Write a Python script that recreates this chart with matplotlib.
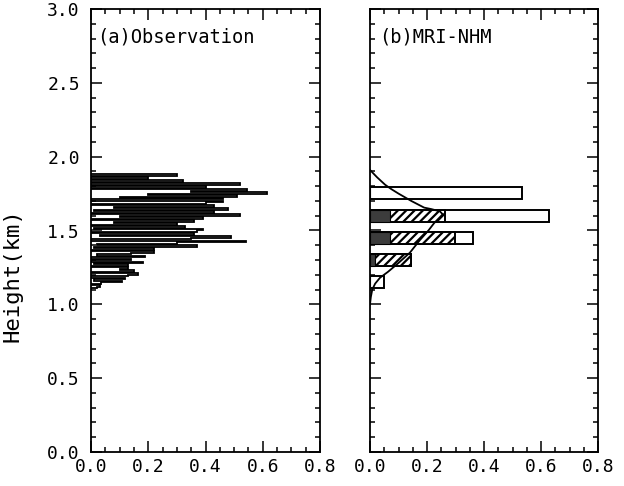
import numpy as np
import matplotlib
matplotlib.use("Agg")
import matplotlib.pyplot as plt
from matplotlib.ticker import MultipleLocator, FormatStrFormatter

plt.rcParams['font.family'] = ['DejaVu Sans Mono', 'DejaVu Sans']
plt.rcParams['hatch.linewidth'] = 1.6

# ---- Panel (a): observed fraction profile, 0.01 km bins from 1.10 km ----
obs_bin_bottom = 1.10
obs_bin_width = 0.01
obs_values = [
    0.0, 0.02, 0.03, 0.0, 0.035, 0.11, 0.01, 0.12, 0.0, 0.13,        # 1.10-1.19
    0.165, 0.0, 0.15, 0.10, 0.13, 0.0, 0.13, 0.01, 0.18, 0.0,        # 1.20-1.29
    0.14, 0.0, 0.19, 0.02, 0.14, 0.22, 0.0, 0.22, 0.01, 0.37,        # 1.30-1.39
    0.02, 0.30, 0.54, 0.0, 0.35, 0.49, 0.03, 0.36, 0.0, 0.37,        # 1.40-1.49
    0.39, 0.01, 0.33, 0.0, 0.30, 0.08, 0.36, 0.0, 0.39, 0.10,        # 1.50-1.59
    0.52, 0.0, 0.43, 0.01, 0.48, 0.08, 0.43, 0.0, 0.40, 0.46,        # 1.60-1.69
    0.0, 0.46, 0.10, 0.51, 0.20, 0.615, 0.35, 0.545, 0.0, 0.40,      # 1.70-1.79
    0.0, 0.52, 0.0, 0.32, 0.0, 0.20, 0.0, 0.30,                      # 1.80-1.87
]

# ---- Panel (b): MRI-NHM bars (centre height, lengths) ----
bar_heights = [1.755, 1.60, 1.45, 1.30, 1.15]
bar_total = [0.533, 0.628, 0.361, 0.144, 0.049]
bar_hatched = [0.0, 0.263, 0.298, 0.144, 0.0]
bar_dark = [0.0, 0.07, 0.07, 0.018, 0.0]
bar_thickness = 0.08

# curve in panel (b)
curve_x = [0.0, 0.003, 0.008, 0.018, 0.035, 0.063, 0.10, 0.14, 0.175, 0.205,
           0.225, 0.245, 0.255, 0.245, 0.215, 0.19, 0.145, 0.10, 0.075, 0.053,
           0.025, 0.0]
curve_h = [1.00, 1.05, 1.10, 1.14, 1.18, 1.22, 1.28, 1.35, 1.435, 1.50,
           1.55, 1.59, 1.61, 1.63, 1.645, 1.655, 1.70, 1.75, 1.78, 1.81,
           1.86, 1.91]

x_ticks = [0.0, 0.2, 0.4, 0.6, 0.8]
y_ticks = [0.0, 0.5, 1.0, 1.5, 2.0, 2.5, 3.0]

fig = plt.figure(figsize=(6.24, 4.86), dpi=100)
W, H = 624.0, 486.0
ax1 = fig.add_axes([91 / W, 1 - 452 / H, 229 / W, 443 / H])
ax2 = fig.add_axes([370 / W, 1 - 452 / H, 228 / W, 443 / H])

for ax in (ax1, ax2):
    ax.set_xlim(0, 0.8)
    ax.set_ylim(0, 3.0)
    ax.set_xticks(x_ticks)
    ax.set_yticks(y_ticks)
    ax.xaxis.set_minor_locator(MultipleLocator(0.05))
    ax.yaxis.set_minor_locator(MultipleLocator(0.1))
    ax.xaxis.set_major_formatter(FormatStrFormatter('%.1f'))
    ax.yaxis.set_major_formatter(FormatStrFormatter('%.1f'))
    ax.tick_params(which='both', direction='in', top=True, right=True,
                   width=1.1, colors='black', labelsize=13)
    ax.tick_params(which='major', length=8)
    ax.tick_params(which='minor', length=3.5)
    ax.tick_params(axis='x', pad=4)
    ax.tick_params(axis='y', pad=8)
    for s in ax.spines.values():
        s.set_linewidth(1.3)

ax2.tick_params(axis='y', labelleft=False)

# panel (a)
edges = obs_bin_bottom + obs_bin_width * np.arange(len(obs_values) + 1)
ax1.stairs(obs_values, edges, orientation='horizontal', baseline=0,
           color='black', linewidth=1.3)
ax1.text(0.026, 0.937, '(a)Observation', transform=ax1.transAxes,
         fontsize=13.5, va='center', ha='left')
ax1.set_ylabel('Height(km)', fontsize=16)
ax1.yaxis.set_label_coords(-0.30, 0.40)

# panel (b)
ax2.barh(bar_heights, bar_total, height=bar_thickness, facecolor='white',
         edgecolor='black', linewidth=1.4, zorder=2)
ax2.barh(bar_heights, bar_hatched, height=bar_thickness, facecolor='white',
         edgecolor='black', linewidth=1.4, hatch='////', zorder=3)
ax2.barh(bar_heights, bar_dark, height=bar_thickness, facecolor='#3c3c3c',
         edgecolor='black', linewidth=0.8, zorder=4)
ax2.plot(curve_x, curve_h, color='black', linewidth=1.3, zorder=5)
ax2.text(0.04, 0.937, '(b)MRI-NHM', transform=ax2.transAxes,
         fontsize=13.5, va='center', ha='left')

fig.savefig('out.png', dpi=100, facecolor='white')
